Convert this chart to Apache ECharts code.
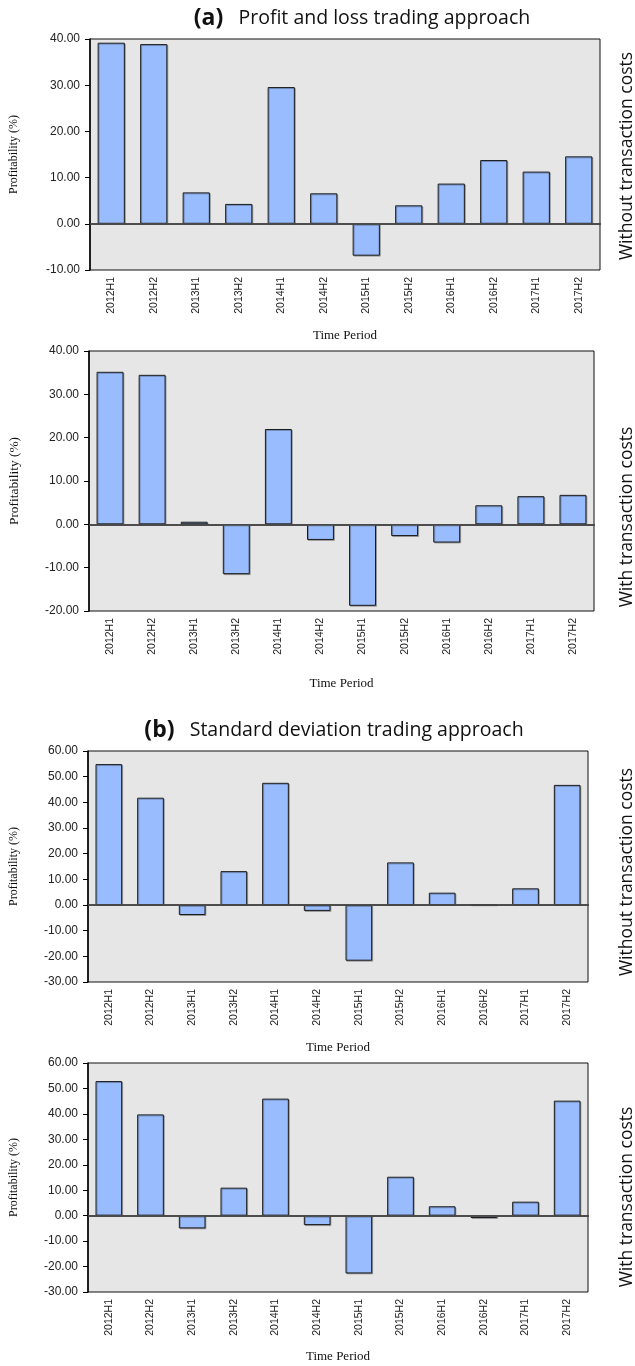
<!DOCTYPE html>
<html>
<head>
<meta charset="utf-8">
<script src="https://cdn.jsdelivr.net/npm/echarts@6/dist/echarts.min.js"></script>
<style>
  html, body { margin: 0; padding: 0; background: #fff; }
  #main { width: 635px; height: 1366px; }
</style>
</head>
<body>
<div id="main"></div>
<script>
// half-year periods shared by all four panels
var periods = ['2012H1', '2012H2', '2013H1', '2013H2', '2014H1', '2014H2',
  '2015H1', '2015H2', '2016H1', '2016H2', '2017H1', '2017H2'];

// (a) profit and loss approach
var plNoCost = [39.2, 38.9, 6.8, 4.3, 29.6, 6.6, -6.9, 4.0, 8.7, 13.8, 11.3, 14.6];
var plCost = [35.2, 34.5, 0.6, -11.5, 22.0, -3.6, -18.8, -2.7, -4.2, 4.4, 6.5, 6.8];
// (b) standard deviation approach
var sdNoCost = [54.9, 41.8, -3.9, 13.2, 47.6, -2.3, -21.7, 16.6, 4.8, 0.3, 6.5, 46.8];
var sdCost = [52.9, 39.8, -5.0, 11.0, 46.0, -3.7, -22.7, 15.3, 3.7, -0.9, 5.5, 45.2];

// y ranges [min, max, interval]
var yRanges = [[-10, 40, 10], [-20, 40, 10], [-30, 60, 10], [-30, 60, 10]];
var panelData = [plNoCost, plCost, sdNoCost, sdCost];

var chart = echarts.init(document.getElementById('main'));

var grids = [
  { left: 90, right: 35, top: 39, height: 231 },
  { left: 88, right: 41, top: 351, height: 260 },
  { left: 88, right: 47, top: 751, height: 231 },
  { left: 88, right: 47, top: 1063, height: 229 }
];
var xNameGap = [59, 66, 59, 58];
var yNameGap = [70, 68, 68, 68];
var yNameSize = [12, 13.4, 12, 12];

var xAxes = [], yAxes = [], series = [];
grids.forEach(function (g, i) {
  g.show = true;
  g.backgroundColor = '#e6e6e6';
  g.borderColor = '#111';
  g.borderWidth = 1;
  xAxes.push({
    type: 'category',
    gridIndex: i,
    data: periods,
    name: 'Time Period',
    nameLocation: 'middle',
    nameGap: xNameGap[i],
    nameTextStyle: { fontFamily: 'Liberation Serif', fontSize: 13, color: '#111' },
    axisLine: { lineStyle: { color: '#000', width: 1.5 } },
    axisTick: { length: 5, lineStyle: { color: '#000' } },
    axisLabel: {
      rotate: 90, margin: 7, interval: 0,
      fontFamily: 'Liberation Sans', fontSize: 10.5, color: '#222'
    },
    splitLine: { show: false }
  });
  yAxes.push({
    type: 'value',
    gridIndex: i,
    min: yRanges[i][0],
    max: yRanges[i][1],
    interval: yRanges[i][2],
    name: 'Profitability (%)',
    nameLocation: 'middle',
    nameRotate: 90,
    nameGap: yNameGap[i],
    nameTextStyle: { fontFamily: 'Liberation Serif', fontSize: yNameSize[i], color: '#111' },
    axisLine: { show: true, lineStyle: { color: '#000', width: 1.5 } },
    axisTick: { show: true, length: 5, lineStyle: { color: '#000' } },
    axisLabel: {
      margin: 10, fontFamily: 'Liberation Sans', fontSize: 12, color: '#222',
      formatter: function (v) { return v.toFixed(2); }
    },
    splitLine: { show: false }
  });
  series.push({
    type: 'bar',
    xAxisIndex: i,
    yAxisIndex: i,
    data: panelData[i],
    barCategoryGap: '36%',
    itemStyle: {
      color: '#98bcfd', borderColor: '#1a1a1a', borderWidth: 1,
      shadowColor: 'rgba(0,0,0,0.25)', shadowOffsetX: 1, shadowOffsetY: 1
    },
    markLine: {
      silent: true,
      symbol: 'none',
      animation: false,
      label: { show: false },
      lineStyle: { color: '#555', width: 1.5, type: 'solid' },
      data: [{ yAxis: 0 }]
    }
  });
});

var sideFont = { fontFamily: 'Open Sans', fontSize: 17.5, fill: '#111' };
function sideLabel(text, x, y) {
  return {
    type: 'text', x: x, y: y, rotation: Math.PI / 2,
    style: Object.assign({ text: text, align: 'center', verticalAlign: 'middle' }, sideFont)
  };
}
function heading(tag, text, x, y) {
  return {
    type: 'text', x: x, y: y,
    style: {
      text: '{b|' + tag + '}   ' + text,
      align: 'center', verticalAlign: 'middle',
      fontFamily: 'Open Sans', fontSize: 19.5, fill: '#111',
      rich: { b: { fontFamily: 'Open Sans', fontWeight: 'bold', fontSize: 23, fill: '#111' } }
    }
  };
}

chart.setOption({
  animation: false,
  grid: grids,
  xAxis: xAxes,
  yAxis: yAxes,
  series: series,
  graphic: [
    heading('(a)', 'Profit and loss trading approach', 362, 18),
    heading('(b)', 'Standard deviation trading approach', 334, 730),
    sideLabel('Without transaction costs', 627, 156),
    sideLabel('With transaction costs', 627, 517),
    sideLabel('Without transaction costs', 627, 872),
    sideLabel('With transaction costs', 627, 1197)
  ]
});
</script>
</body>
</html>
